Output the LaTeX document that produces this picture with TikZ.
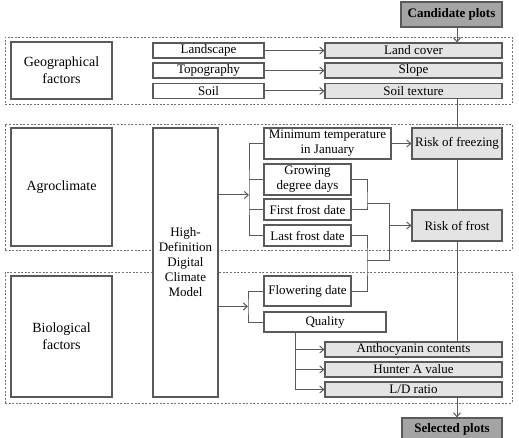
\documentclass[tikz,border=0pt]{standalone}
\usepackage{fontspec}
\setmainfont{Liberation Serif}
\usetikzlibrary{arrows.meta}
\definecolor{edge}{HTML}{5A5A5A}
\definecolor{lightfill}{HTML}{E4E4E4}
\definecolor{darkfill}{HTML}{A4A4A4}
\begin{document}
\begin{tikzpicture}[x=1pt,y=-1pt,
  box/.style={draw=edge,line width=1.1pt,fill=white,inner sep=1pt,align=center,font=\fontsize{13}{15}\selectfont},
  bigbox/.style={box,font=\fontsize{14}{17}\selectfont},
  graybox/.style={box,fill=lightfill},
  darkbox/.style={box,fill=darkfill,font=\fontsize{13}{15}\selectfont\bfseries},
  group/.style={draw=black!55,line width=0.9pt,dash pattern=on 2pt off 1.6pt},
  link/.style={draw=edge,line width=1pt},
  arr/.style={link,-{Straight Barb[length=4pt,width=7pt]}}]
\useasboundingbox (0,0) rectangle (519,438);
% groups
\node[group,minimum width=507pt,minimum height=67pt] (g1) at (258.5,70.5) {};
\node[group,minimum width=507pt,minimum height=126pt] (g2) at (258.5,187) {};
\node[group,minimum width=507pt,minimum height=131pt] (g3) at (258.5,337.5) {};
% top
\node[darkbox,minimum width=101pt,minimum height=25pt] (cand) at (451.5,14.5) {Candidate plots};
\node[bigbox,minimum width=101pt,minimum height=57pt] (geof) at (61.5,70.5) {Geographical\\factors};
\node[box,minimum width=111pt,minimum height=15pt] (land) at (208.5,50.5) {Landscape};
\node[box,minimum width=111pt,minimum height=15pt] (topo) at (208.5,70.5) {Topography};
\node[box,minimum width=111pt,minimum height=15pt] (soil) at (208.5,91) {Soil};
\node[graybox,minimum width=177pt,minimum height=15pt] (lc) at (413.5,50.5) {Land cover};
\node[graybox,minimum width=177pt,minimum height=15pt] (slope) at (413.5,70.5) {Slope};
\node[graybox,minimum width=177pt,minimum height=15pt] (soiltex) at (413.5,91) {Soil texture};
% agroclimate
\node[bigbox,minimum width=101pt,minimum height=118pt] (agro) at (61.5,187) {Agroclimate};
\node[box,minimum width=65pt,minimum height=269pt] (hd) at (185.5,262.5) {High-\\Definition\\Digital\\Climate\\Model};
\node[box,minimum width=127pt,minimum height=31pt] (mint) at (327.5,143.5) {Minimum temperature\\in January};
\node[box,minimum width=87pt,minimum height=31pt] (gdd) at (307.5,179.5) {Growing\\degree days};
\node[box,minimum width=87pt,minimum height=21pt] (ffd) at (307.5,209.5) {First frost date};
\node[box,minimum width=87pt,minimum height=21pt] (lfd) at (307.5,235.5) {Last frost date};
\node[graybox,minimum width=90pt,minimum height=31pt] (rfz) at (457,143.5) {Risk of freezing};
\node[graybox,minimum width=90pt,minimum height=31pt] (rfr) at (457,225.5) {Risk of frost};
% biological
\node[bigbox,minimum width=101pt,minimum height=121pt] (bio) at (61.5,336.5) {Biological\\factors};
\node[box,minimum width=87pt,minimum height=30pt] (flow) at (307.5,291) {Flowering date};
\node[box,minimum width=122pt,minimum height=20pt] (qual) at (325,322) {Quality};
\node[graybox,minimum width=177pt,minimum height=15pt] (anth) at (413.5,349.5) {Anthocyanin contents};
\node[graybox,minimum width=177pt,minimum height=15pt] (hunt) at (413.5,369.5) {Hunter A value};
\node[graybox,minimum width=177pt,minimum height=15pt] (ld) at (413.5,389.5) {L/D ratio};
\node[darkbox,minimum width=100pt,minimum height=22pt] (sel) at (452,429) {Selected plots};
% coordinates
\coordinate (br1) at (249,195);
\coordinate (br2) at (248,306.5);
\coordinate (jA) at (367,204);
\coordinate (jB) at (367,261);
\coordinate (jC) at (389,204);
\coordinate (jD) at (389,261);
\coordinate (qs) at (295,332);
% main vertical line
\draw[arr] (cand.south -| rfz.north) -- (lc.north -| rfz.north);
\draw[link] (soiltex.south -| rfz.north) -- (rfz.north);
\draw[link] (rfz.south) -- (rfr.north);
\draw[link] (rfr.south) -- (anth.north -| rfr.south);
\draw[arr] (ld.south -| rfr.south) -- (sel.north -| rfr.south);
% geographical arrows
\draw[arr] (land.east) -- (lc.west);
\draw[arr] (topo.east) -- (slope.west);
\draw[arr] (soil.east) -- (soiltex.west);
% agroclimate bracket
\draw[arr] (hd.east |- br1) -- (br1);
\draw[link] (mint.west) -| (br1) |- (lfd.west);
\draw[link] (gdd.west) -- (gdd.west -| br1);
\draw[link] (ffd.west) -- (ffd.west -| br1);
\draw[arr] (mint.east) -- (rfz.west);
\draw[link] (gdd.east) -| (jA) |- (ffd.east);
\draw[link] (jA) -- (jC) -- (jD) -- (jB);
\draw[link] (lfd.east) -| (jB) |- (flow.east);
\draw[arr] (jC |- rfr.west) -- (rfr.west);
% biological bracket
\draw[arr] (hd.east |- br2) -- (br2);
\draw[link] (flow.west) -| (br2) |- (qual.west);
\draw[arr] (qs) |- (ld.west);
\draw[arr] (qs |- anth.west) -- (anth.west);
\draw[arr] (qs |- hunt.west) -- (hunt.west);
\end{tikzpicture}
\end{document}
